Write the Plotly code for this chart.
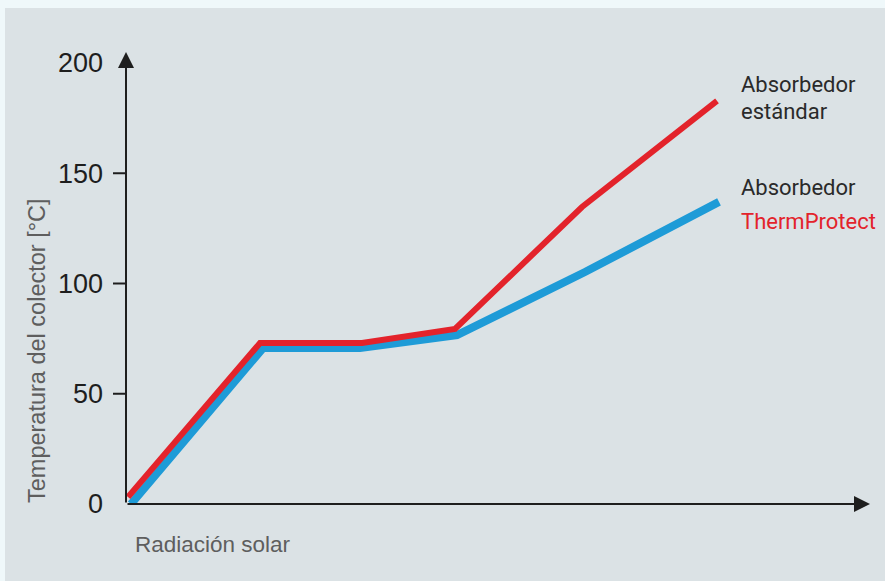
import plotly.graph_objects as go

W, H = 885, 581

# Data (radiation in arbitrary units, temperature in °C)
x_std = [0.02, 1.34, 2.36, 3.29, 4.56, 5.91]
y_std = [3.2, 73, 73, 79.4, 134.7, 182.8]
x_tp = [0.05, 1.37, 2.34, 3.31, 4.59, 5.93]
y_tp = [0, 70.7, 70.7, 76.6, 105.2, 137]
y_ticks = [0, 50, 100, 150, 200]
y_tick_marks = [50, 100, 150]

RED = "#e3232b"
BLUE = "#1e9bd7"
DARK = "#1e1e1e"
GREY = "#5e5e5e"

x_range = [0, 7.44]
y_range = [0, 200]
x_dom = [126 / W, 870 / W]
y_dom = [77 / H, 518 / H]

fig = go.Figure()
fig.add_trace(go.Scatter(x=x_tp, y=y_tp, mode="lines",
                         line=dict(color=BLUE, width=8), hoverinfo="skip"))
fig.add_trace(go.Scatter(x=x_std, y=y_std, mode="lines",
                         line=dict(color=RED, width=6), hoverinfo="skip"))

shapes = [dict(type="rect", xref="paper", yref="paper", x0=5 / W, x1=1, y0=0,
               y1=1 - 8 / H, fillcolor="#dbe2e5", line=dict(width=0), layer="below")]
dom_w = (x_dom[1] - x_dom[0]) * W
for v in y_tick_marks:
    shapes.append(dict(type="line", xref="x domain", yref="y", x0=-13 / dom_w, x1=0,
                       y0=v, y1=v, line=dict(color=DARK, width=2)))

label_font = "Roboto, Liberation Sans, sans-serif"
annotations = [
    # axes arrows
    dict(x=x_range[1], y=0, ax=0, ay=0, xref="x", yref="y", axref="x", ayref="y",
         text="", showarrow=True, arrowhead=2, arrowsize=1.6, arrowwidth=2, arrowcolor=DARK),
    dict(x=0, y=205, ax=0, ay=0, xref="x", yref="y", axref="x", ayref="y",
         text="", showarrow=True, arrowhead=2, arrowsize=1.6, arrowwidth=2, arrowcolor=DARK),
    # axis titles
    dict(x=133 / W, y=1 - 544 / H, xref="paper", yref="paper", xanchor="left", yanchor="middle",
         text="Radiación solar", showarrow=False,
         font=dict(family="Liberation Sans, Arial, sans-serif", size=22.5, color=GREY)),
    dict(x=37 / W, y=1 - 351 / H, xref="paper", yref="paper", xanchor="center", yanchor="middle",
         text="Temperatura del colector [°C]", showarrow=False, textangle=-90,
         font=dict(family="Liberation Sans, Arial, sans-serif", size=23.5, color=GREY)),
    # series labels
    dict(x=739 / W, y=1 - 84 / H, xref="paper", yref="paper", xanchor="left", yanchor="middle",
         text="Absorbedor", showarrow=False, font=dict(family=label_font, size=22, color="#2a2a2a")),
    dict(x=739 / W, y=1 - 112 / H, xref="paper", yref="paper", xanchor="left", yanchor="middle",
         text="estándar", showarrow=False, font=dict(family=label_font, size=22, color="#2a2a2a")),
    dict(x=739 / W, y=1 - 188 / H, xref="paper", yref="paper", xanchor="left", yanchor="middle",
         text="Absorbedor", showarrow=False, font=dict(family=label_font, size=22, color="#2a2a2a")),
    dict(x=739 / W, y=1 - 222 / H, xref="paper", yref="paper", xanchor="left", yanchor="middle",
         text="ThermProtect", showarrow=False, font=dict(family=label_font, size=22, color=RED)),
]

fig.update_layout(
    width=W, height=H,
    autosize=False,
    margin=dict(l=0, r=0, t=0, b=0, pad=0, autoexpand=False),
    paper_bgcolor="#eff8fa",
    plot_bgcolor="rgba(0,0,0,0)",
    showlegend=False,
    shapes=shapes,
    annotations=annotations,
    xaxis=dict(domain=x_dom, range=x_range, showgrid=False, zeroline=False, automargin=False,
               showline=False, showticklabels=False, ticks="", fixedrange=True),
    yaxis=dict(domain=y_dom, range=y_range, showgrid=False, zeroline=False, automargin=False,
               showline=False, tickvals=y_ticks, ticktext=[str(v) for v in y_ticks],
               ticks="", ticklabelstandoff=22,
               tickfont=dict(family="Liberation Sans, Arial, sans-serif", size=27, color=DARK),
               fixedrange=True),
)

fig.write_html("out.html", config={"displayModeBar": False})
